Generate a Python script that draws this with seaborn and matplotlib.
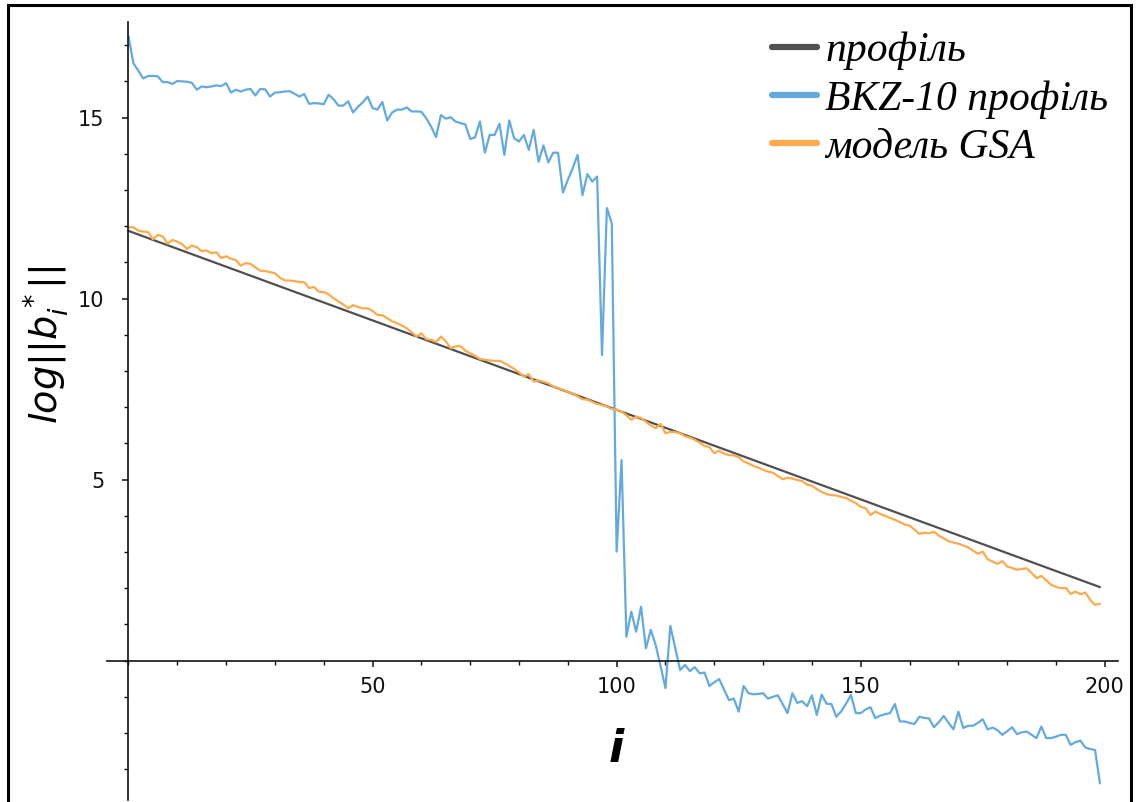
import numpy as np
import pandas as pd
import seaborn as sns
import matplotlib
matplotlib.use("Agg")
import matplotlib.pyplot as plt
from matplotlib.ticker import FixedLocator, MultipleLocator
from matplotlib.patches import Rectangle

sns.set_style("white")
plt.rcParams["font.family"] = ["DejaVu Sans"]
plt.rcParams["mathtext.fontset"] = "dejavusans"

# Gram-Schmidt log-norm profiles over basis index i
profile_i = [0, 199]
profile_v = [11.87, 2.03]

bkz_v = [
    17.25, 16.50, 16.30, 16.08, 16.15, 16.15, 16.14, 15.98, 15.98, 15.93,
    16.01, 16.00, 15.99, 15.96, 15.77, 15.86, 15.84, 15.86, 15.89, 15.87,
    15.95, 15.69, 15.77, 15.72, 15.77, 15.79, 15.61, 15.79, 15.78, 15.58,
    15.69, 15.70, 15.72, 15.73, 15.66, 15.58, 15.65, 15.38, 15.40, 15.39,
    15.37, 15.63, 15.51, 15.33, 15.33, 15.45, 15.14, 15.30, 15.42, 15.58,
    15.26, 15.22, 15.43, 14.92, 15.14, 15.22, 15.22, 15.28, 15.17, 15.17,
    15.16, 14.98, 14.75, 14.46, 15.07, 14.97, 15.01, 14.89, 14.85, 14.81,
    14.41, 14.45, 14.89, 14.03, 14.52, 14.52, 14.83, 13.97, 14.92, 14.43,
    14.34, 14.52, 14.11, 14.66, 13.78, 14.23, 13.76, 14.03, 14.03, 12.93,
    13.28, 13.60, 13.97, 12.86, 13.44, 13.23, 13.37, 8.44, 12.50, 12.08,
    3.01, 5.54, 0.66, 1.35, 0.80, 1.49, 0.34, 0.85, 0.43, -0.15,
    -0.76, 0.96, 0.35, -0.26, -0.12, -0.29, -0.18, -0.35, -0.33, -0.70,
    -0.60, -0.51, -0.80, -1.09, -1.05, -1.41, -0.70, -0.90, -0.93, -0.92,
    -0.90, -1.05, -1.00, -0.96, -1.20, -1.45, -0.90, -1.17, -1.12, -1.26,
    -0.96, -1.50, -0.94, -1.19, -1.20, -1.55, -1.40, -1.19, -0.95, -1.45,
    -1.45, -1.35, -1.29, -1.59, -1.52, -1.48, -1.45, -1.20, -1.68, -1.68,
    -1.72, -1.75, -1.55, -1.58, -1.60, -1.84, -1.70, -1.53, -1.72, -1.90,
    -1.41, -1.86, -1.80, -1.80, -1.72, -1.62, -1.90, -1.85, -1.92, -2.05,
    -1.95, -1.84, -2.03, -1.98, -1.96, -2.05, -2.14, -1.82, -2.14, -2.14,
    -2.10, -2.05, -2.05, -2.33, -2.25, -2.21, -2.40, -2.44, -2.47, -3.39,
]

gsa_v = [
    11.97, 11.97, 11.88, 11.85, 11.84, 11.64, 11.76, 11.72, 11.52, 11.62,
    11.57, 11.50, 11.37, 11.47, 11.42, 11.31, 11.33, 11.25, 11.28, 11.12,
    11.17, 11.10, 11.06, 10.91, 10.98, 10.96, 10.86, 10.77, 10.76, 10.73,
    10.70, 10.58, 10.50, 10.50, 10.48, 10.46, 10.45, 10.29, 10.32, 10.19,
    10.18, 10.12, 10.01, 9.92, 9.84, 9.73, 9.82, 9.77, 9.73, 9.73,
    9.66, 9.55, 9.54, 9.46, 9.37, 9.32, 9.26, 9.18, 9.07, 8.95,
    9.04, 8.88, 8.86, 8.80, 8.95, 8.82, 8.63, 8.68, 8.69, 8.56,
    8.49, 8.42, 8.33, 8.31, 8.29, 8.28, 8.28, 8.22, 8.14, 8.06,
    7.96, 7.84, 7.91, 7.71, 7.74, 7.70, 7.66, 7.57, 7.52, 7.48,
    7.42, 7.38, 7.30, 7.22, 7.21, 7.15, 7.09, 7.06, 7.02, 6.95,
    6.93, 6.88, 6.78, 6.65, 6.74, 6.70, 6.60, 6.50, 6.42, 6.54,
    6.28, 6.32, 6.31, 6.28, 6.20, 6.16, 6.10, 6.02, 5.93, 5.90,
    5.73, 5.80, 5.72, 5.68, 5.67, 5.62, 5.50, 5.45, 5.38, 5.33,
    5.27, 5.22, 5.19, 5.10, 5.01, 5.05, 5.03, 4.99, 4.96, 4.86,
    4.83, 4.74, 4.66, 4.60, 4.57, 4.56, 4.52, 4.49, 4.42, 4.35,
    4.25, 4.21, 4.02, 4.12, 4.05, 4.00, 3.94, 3.89, 3.83, 3.76,
    3.73, 3.62, 3.50, 3.53, 3.52, 3.56, 3.45, 3.38, 3.30, 3.26,
    3.23, 3.18, 3.13, 3.04, 2.95, 3.01, 2.80, 2.74, 2.67, 2.75,
    2.60, 2.56, 2.51, 2.53, 2.55, 2.42, 2.28, 2.34, 2.22, 2.09,
    2.04, 2.00, 2.01, 1.84, 1.91, 1.83, 1.88, 1.68, 1.54, 1.57,
]

indices = list(range(len(bkz_v)))

labels = ["профіль", "BKZ-10 профіль", "модель GSA"]
colors = ["#505050", "#64aade", "#fcaa4c"]

x_major = [50, 100, 150, 200]
y_major = [5, 10, 15]

fig = plt.figure(figsize=(11.36, 8.02), dpi=100)
ax = fig.add_axes([107 / 1136, 2 / 802, 1011 / 1136, 778 / 802])

sns.lineplot(x=profile_i, y=profile_v, ax=ax, color=colors[0], lw=1.6, label=labels[0])
sns.lineplot(x=indices, y=bkz_v, ax=ax, color=colors[1], lw=1.6, label=labels[1])
sns.lineplot(x=indices, y=gsa_v, ax=ax, color=colors[2], lw=1.6, label=labels[2])

ax.set_xlim(-4.4, 202.7)
ax.set_ylim(-3.85, 17.64)

# axes cross at the origin
for side in ("top", "right"):
    ax.spines[side].set_visible(False)
ax.spines["left"].set_position(("data", 0))
ax.spines["bottom"].set_position(("data", 0))
for side in ("left", "bottom"):
    ax.spines[side].set_linewidth(1.2)
    ax.spines[side].set_color("#111111")

ax.xaxis.set_major_locator(FixedLocator(x_major))
ax.xaxis.set_minor_locator(MultipleLocator(10))
ax.yaxis.set_major_locator(FixedLocator(y_major))
ax.yaxis.set_minor_locator(MultipleLocator(1))
ax.tick_params(axis="both", which="both", bottom=True, left=True, top=False, right=False)
ax.tick_params(axis="both", which="major", direction="out", length=4.5, width=1.1,
               color="#111111", labelsize=15, labelcolor="#111111")
ax.tick_params(axis="both", which="minor", direction="out", length=3.2, width=1.0,
               color="#111111")
ax.tick_params(axis="x", which="major", pad=7)
ax.tick_params(axis="y", which="major", pad=13)

ax.set_xlabel("i", fontsize=32, fontstyle="italic", fontweight="bold", color="black")
ax.xaxis.set_label_coords(0.504, 0.093)
ax.set_ylabel(r"$log||b_i^*||$", fontsize=27.5, color="black")
ax.yaxis.set_label_coords(-0.036, 0.585)

leg = ax.legend(loc="upper left", bbox_to_anchor=(772 / 1136, 1 - 32 / 802),
                bbox_transform=fig.transFigure, frameon=False,
                prop={"family": "Liberation Serif", "style": "italic", "size": 30},
                handlelength=1.08, handletextpad=0.2, labelspacing=0.23,
                borderpad=0, borderaxespad=0)
for h in leg.get_lines():
    h.set_linewidth(4.5)
for t in leg.get_texts():
    t.set_color("black")

# outer frame of the figure
fig.patches.append(Rectangle((8 / 1136, -0.01), 1123 / 1136, 1 - 5 / 802 + 0.01,
                             transform=fig.transFigure, fill=False,
                             edgecolor="black", linewidth=2.2))

fig.savefig("out.png", dpi=100)
